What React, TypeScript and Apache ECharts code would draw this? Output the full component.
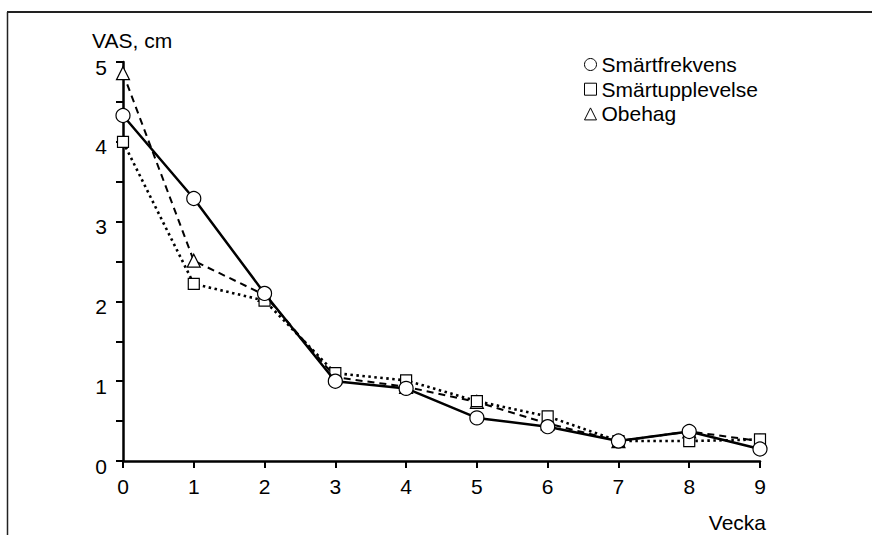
import React, { useEffect, useRef } from "react";
import * as echarts from "echarts";

const weeks = [0, 1, 2, 3, 4, 5, 6, 7, 8, 9];
const smartfrekvens = [4.33, 3.29, 2.1, 1.0, 0.91, 0.54, 0.43, 0.25, 0.37, 0.15];
const smartupplevelse = [4.0, 2.22, 2.01, 1.1, 1.01, 0.75, 0.56, 0.25, 0.25, 0.27];
const obehag = [4.86, 2.51, 2.08, 1.05, 0.93, 0.74, 0.47, 0.25, 0.37, 0.25];
const yTicks = [0, 1, 2, 3, 4, 5];
const seriesNames = ["Smärtfrekvens", "Smärtupplevelse", "Obehag"];

const FONT = "'Liberation Sans', Arial, Helvetica, sans-serif";
const FS = 21;

export default function App() {
  const ref = useRef<HTMLDivElement>(null);
  useEffect(() => {
    if (!ref.current) return;
    const chart = echarts.init(ref.current, undefined, { renderer: "svg" });
    const pts = (arr: number[]) => weeks.map((w, i) => [w, arr[i]]);
    const markerStyle = { color: "#fff", borderColor: "#000", borderWidth: 1.2 };
    chart.setOption({
      animation: false,
      backgroundColor: "#fff",
      textStyle: { fontFamily: FONT },
      grid: { left: 123, right: 112, top: 62, bottom: 74 },
      legend: {
        orient: "vertical",
        left: 579,
        top: 49,
        itemWidth: 12,
        itemHeight: 12,
        itemGap: 3.7,
        textStyle: { fontFamily: FONT, fontSize: FS, color: "#000", lineHeight: 20 },
        itemStyle: { color: "#fff", borderColor: "#000", borderWidth: 1 },
        data: [
          { name: seriesNames[0], icon: "circle" },
          { name: seriesNames[1], icon: "rect" },
          { name: seriesNames[2], icon: "triangle" },
        ],
      },
      xAxis: {
        type: "value",
        min: 0,
        max: 9,
        interval: 1,
        splitLine: { show: false },
        axisLine: { show: true, lineStyle: { color: "#000", width: 2.5 } },
        axisTick: { show: true, length: 7, lineStyle: { color: "#000", width: 2 } },
        axisLabel: { color: "#000", fontSize: FS, fontFamily: FONT, margin: 15 },
      },
      yAxis: {
        type: "value",
        min: yTicks[0],
        max: yTicks[yTicks.length - 1],
        interval: 1,
        splitLine: { show: false },
        axisLine: { show: true, lineStyle: { color: "#000", width: 2.5 } },
        axisTick: { show: true, length: 7, lineStyle: { color: "#000", width: 2 } },
        minorTick: { show: true, splitNumber: 2, length: 7, lineStyle: { color: "#000", width: 2 } },
        axisLabel: {
          color: "#000",
          fontSize: FS,
          fontFamily: FONT,
          margin: 16,
          formatter: "{a|{value}}",
          rich: { a: { fontSize: FS, fontFamily: FONT, color: "#000", padding: [10, 0, 0, 0] } },
        },
      },
      graphic: [
        { type: "line", shape: { x1: 7, y1: 12, x2: 872, y2: 12 }, style: { stroke: "#222", lineWidth: 2 } },
        { type: "line", shape: { x1: 7.5, y1: 12, x2: 7.5, y2: 535 }, style: { stroke: "#222", lineWidth: 1.5 } },
        { type: "text", left: 92, top: 30, style: { text: "VAS, cm", font: `${FS}px ${FONT}`, fill: "#000" } },
        { type: "text", right: 106, top: 512, style: { text: "Vecka", font: `${FS}px ${FONT}`, fill: "#000" } },
      ],
      series: [
        {
          name: seriesNames[2],
          type: "line",
          data: pts(obehag),
          symbol: "triangle",
          symbolSize: 13,
          z: 2,
          lineStyle: { color: "#000", width: 2, type: [7, 5] },
          itemStyle: markerStyle,
        },
        {
          name: seriesNames[1],
          type: "line",
          data: pts(smartupplevelse),
          symbol: "rect",
          symbolSize: 11,
          z: 3,
          lineStyle: { color: "#000", width: 2.6, type: [2.5, 3.5] },
          itemStyle: markerStyle,
        },
        {
          name: seriesNames[0],
          type: "line",
          data: pts(smartfrekvens),
          symbol: "circle",
          symbolSize: 14,
          z: 4,
          lineStyle: { color: "#000", width: 2.5 },
          itemStyle: markerStyle,
        },
      ],
    });
    return () => chart.dispose();
  }, []);
  return (
    <div
      ref={ref}
      style={{ position: "fixed", left: 0, top: 0, width: 872, height: 535, background: "#fff" }}
    />
  );
}
